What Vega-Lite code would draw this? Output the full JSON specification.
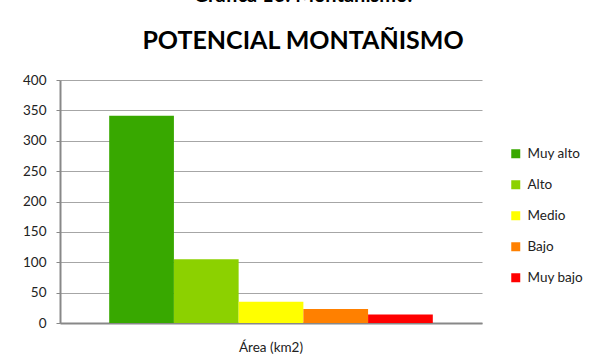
{
  "$schema": "https://vega.github.io/schema/vega-lite/v6.json",
  "autosize": "none",
  "width": 422,
  "height": 243,
  "padding": {"left": 60, "top": 80, "right": 109, "bottom": 37},
  "background": "white",
  "config": {
    "font": "Lato",
    "view": {"stroke": null}
  },
  "title": {
    "text": "Gráfica 16: Montañismo.",
    "subtitle": "POTENCIAL MONTAÑISMO",
    "anchor": "middle",
    "dx": 32,
    "offset": 19,
    "font": "Lato",
    "fontSize": 20,
    "fontWeight": "bold",
    "color": "#000000",
    "subtitleFont": "Lato",
    "subtitleFontSize": 25,
    "subtitleFontWeight": "bold",
    "subtitleColor": "#000000",
    "subtitlePadding": 23
  },
  "data": {
    "values": [
      {"categoria": "Área (km2)", "nivel": "Muy alto", "area": 341},
      {"categoria": "Área (km2)", "nivel": "Alto", "area": 105},
      {"categoria": "Área (km2)", "nivel": "Medio", "area": 35},
      {"categoria": "Área (km2)", "nivel": "Bajo", "area": 23},
      {"categoria": "Área (km2)", "nivel": "Muy bajo", "area": 14}
    ]
  },
  "mark": {"type": "bar"},
  "encoding": {
    "x": {
      "field": "categoria",
      "type": "nominal",
      "scale": {"paddingInner": 0, "paddingOuter": 0.152},
      "axis": {
        "title": null,
        "labelAngle": 0,
        "labelFontSize": 13.5,
        "labelColor": "#222222",
        "labelPadding": 17,
        "ticks": false,
        "domainColor": "#888888",
        "domainWidth": 2,
        "grid": false
      }
    },
    "xOffset": {
      "field": "nivel",
      "type": "nominal",
      "sort": ["Muy alto", "Alto", "Medio", "Bajo", "Muy bajo"],
      "scale": {"paddingInner": 0, "paddingOuter": 0}
    },
    "y": {
      "field": "area",
      "type": "quantitative",
      "scale": {"domain": [0, 400], "nice": false},
      "axis": {
        "title": null,
        "values": [0, 50, 100, 150, 200, 250, 300, 350, 400],
        "labelFontSize": 13.5,
        "labelColor": "#222222",
        "labelPadding": 10,
        "tickSize": 4,
        "tickColor": "#888888",
        "domainColor": "#888888",
        "domainWidth": 2,
        "gridColor": "#a6a6a6",
        "gridWidth": 1.2
      }
    },
    "color": {
      "field": "nivel",
      "type": "nominal",
      "sort": ["Muy alto", "Alto", "Medio", "Bajo", "Muy bajo"],
      "scale": {
        "domain": ["Muy alto", "Alto", "Medio", "Bajo", "Muy bajo"],
        "range": ["#38a800", "#8cd100", "#ffff00", "#ff8000", "#ff0000"]
      },
      "legend": {
        "title": null,
        "orient": "none",
        "legendX": 449,
        "legendY": 67,
        "padding": 0,
        "symbolType": "square",
        "symbolSize": 81,
        "symbolStrokeWidth": 0,
        "labelFontSize": 13.5,
        "labelColor": "#222222",
        "labelOffset": 5,
        "rowPadding": 16
      }
    }
  }
}
